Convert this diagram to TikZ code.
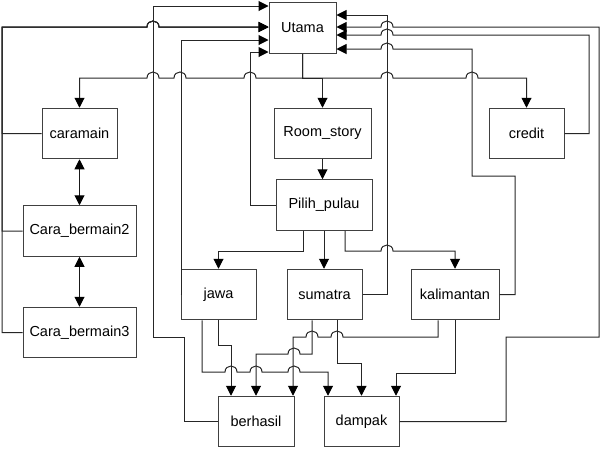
\documentclass[tikz,border=0pt]{standalone}
\usepackage{fontspec}
\setmainfont{Liberation Sans}
\usetikzlibrary{arrows.meta}
\begin{document}
\begin{tikzpicture}[x=1pt,y=-1pt,
  box/.style={draw=black!75,line width=1pt,inner sep=0pt,minimum height=50.5pt,font=\fontsize{14.5}{17}\selectfont},
  link/.style={draw=black!85,line width=1pt,-{Triangle[length=10pt,width=10pt,color=black]}},
  both/.style={draw=black!90,line width=1pt,{Triangle[length=10pt,width=10pt,color=black]}-{Triangle[length=10pt,width=10pt,color=black]}},
  hopR/.style 2 args={insert path={-- ({#1-6},#2) .. controls ({#1-6},{#2-8}) and ({#1+6},{#2-8}) .. ({#1+6},#2)}},
  hopL/.style 2 args={insert path={-- ({#1+6},#2) .. controls ({#1+6},{#2-8}) and ({#1-6},{#2-8}) .. ({#1-6},#2)}}]
\useasboundingbox (0,0) rectangle (604,456);
% nodes
\node[box,minimum width=67pt] (utama) at (302.5,28) {Utama};
\node[box,minimum width=75pt] (caramain) at (79.5,133.5) {caramain};
\node[box,minimum width=113pt] (cb2) at (79.5,231) {Cara\_bermain2};
\node[box,minimum width=113pt] (cb3) at (79.5,332.5) {Cara\_bermain3};
\node[box,minimum width=97pt] (room) at (322.5,133.5) {Room\_story};
\node[box,minimum width=75pt] (credit) at (526.5,133.5) {credit};
\node[box,minimum width=96pt] (pilih) at (324,205) {Pilih\_pulau};
\node[box,minimum width=75pt] (jawa) at (218.5,294.5) {jawa};
\node[box,minimum width=75pt] (sumatra) at (324.5,294.5) {sumatra};
\node[box,minimum width=88pt] (kalimantan) at (455,294.5) {kalimantan};
\node[box,minimum width=76pt] (berhasil) at (256,421.5) {berhasil};
\node[box,minimum width=75pt] (dampak) at (361.5,421.5) {dampak};
% Utama outputs
\draw[link] (utama.south) -- (302.5,78) [hopL={250}{78}] [hopL={180}{78}] [hopL={153}{78}] -- (79.5,78) -- (caramain.north);
\draw[link] (utama.south) -- (302.5,78) -- (322.5,78) -- (room.north);
\draw[link] (utama.south) -- (302.5,78) [hopR={387}{78}] [hopR={472}{78}] -- (526.5,78) -- (credit.north);
% returns to Utama (left side)
\draw[link] (pilih.west) -- (250,205) -- (250,52) -- (utama.west |- 0,52);
\draw[link] (jawa.west) -- (181,294.5) -- (181,40) -- (utama.west |- 0,40);
\draw[link] (berhasil.west) -- (184,421.5) -- (184,337) -- (153,337) -- (153,6) -- (utama.west |- 0,6);
\draw[link] (caramain.west) -- (2,133.5) -- (2,27) [hopR={153}{27}] -- (utama.west |- 0,27);
\draw[link] (cb2.west) -- (2,231) -- (2,27) [hopR={153}{27}] -- (utama.west |- 0,27);
\draw[link] (cb3.west) -- (2,332.5) -- (2,27) [hopR={153}{27}] -- (utama.west |- 0,27);
% returns to Utama (right side)
\draw[link] (sumatra.east) -- (387,294.5) -- (387,15) -- (utama.east |- 0,15);
\draw[link] (dampak.east) -- (506,421.5) -- (506,337) -- (599,337) -- (599,27) [hopL={387}{27}] -- (utama.east |- 0,27);
\draw[link] (credit.east) -- (589,133.5) -- (589,35) [hopL={387}{35}] -- (utama.east |- 0,35);
\draw[link] (kalimantan.east) -- (515,294.5) -- (515,176) -- (472,176) -- (472,49) [hopL={387}{49}] -- (utama.east |- 0,49);
% story flow
\draw[link] (room.south) -- (room.south |- pilih.north);
\draw[link] (pilih.south -| 303,0) -- (303,251) -- (218.5,251) -- (jawa.north);
\draw[link] (pilih.south) -- (pilih.south |- sumatra.north);
\draw[link] (pilih.south -| 345,0) -- (345,251) [hopR={387}{251}] -- (455,251) -- (kalimantan.north);
% islands to results
\draw[link] (jawa.south) -- (218.5,345) -- (231,345) -- (berhasil.north -| 231,0);
\draw[link] (jawa.south -| 202,0) -- (202,372) [hopR={231}{372}] [hopR={256}{372}] [hopR={294}{372}] -- (328,372) -- (dampak.north -| 328,0);
\draw[link] (sumatra.south -| 312,0) -- (312,354) [hopL={294}{354}] -- (256,354) -- (berhasil.north);
\draw[link] (sumatra.south -| 337,0) -- (337,363) -- (361.5,363) -- (dampak.north);
\draw[link] (kalimantan.south -| 438,0) -- (438,337) [hopL={337}{337}] [hopL={312}{337}] -- (293,337) -- (berhasil.north -| 293,0);
\draw[link] (kalimantan.south) -- (455,373) -- (396,373) -- (dampak.north -| 396,0);
% help pages
\draw[both] (caramain.south) -- (cb2.north);
\draw[both] (cb2.south) -- (cb3.north);
\end{tikzpicture}
\end{document}
